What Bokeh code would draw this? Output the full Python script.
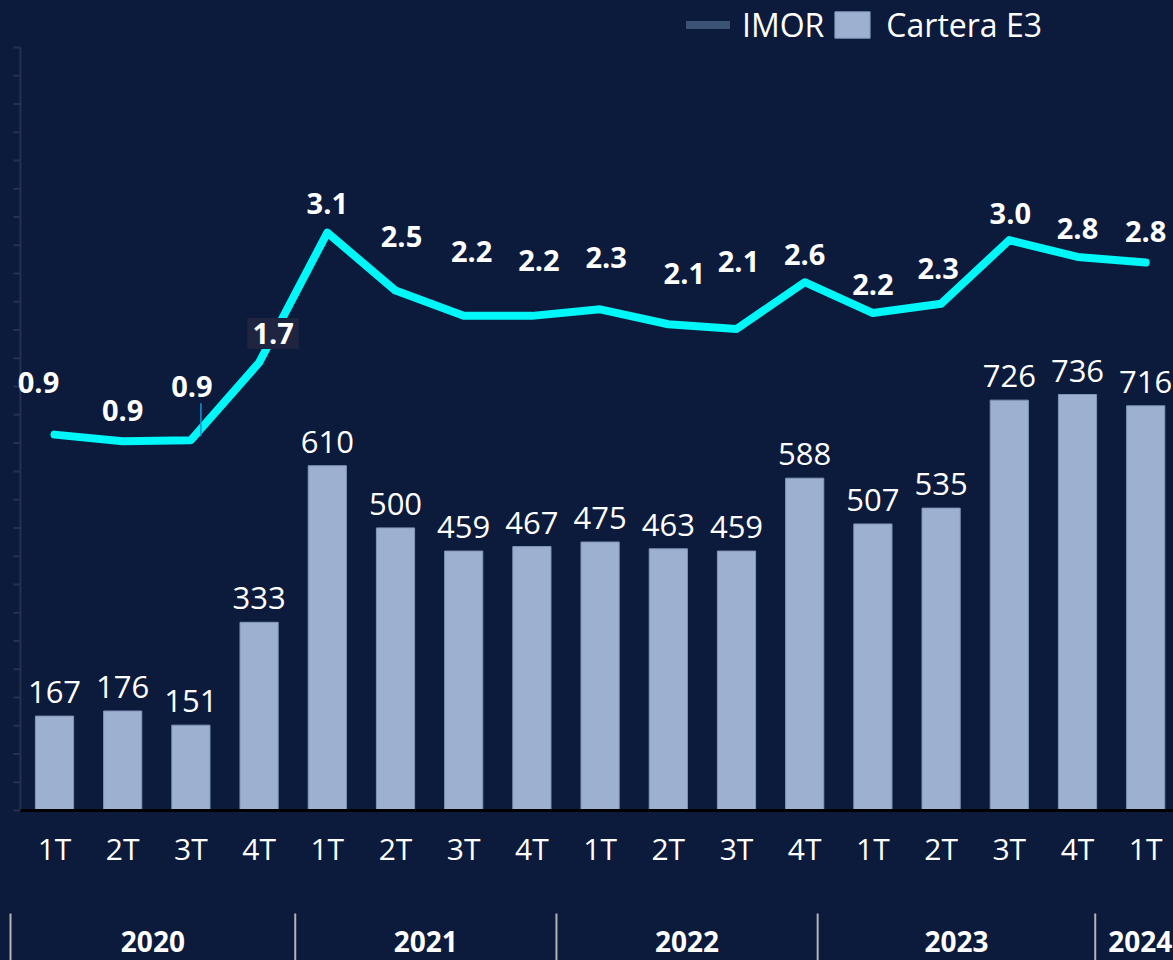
from bokeh.plotting import figure
from bokeh.models import (ColumnDataSource, Range1d, LinearAxis, FixedTicker,
                          Legend, LegendItem)
from bokeh.core.properties import value
from bokeh.embed import file_html
from bokeh.resources import INLINE

# ---------------- data ----------------
quarters = ["1T", "2T", "3T", "4T", "1T", "2T", "3T", "4T", "1T", "2T", "3T", "4T",
            "1T", "2T", "3T", "4T", "1T"]
years = ["2020", "2021", "2022", "2023", "2024"]
cartera_e3 = [167, 176, 151, 333, 610, 500, 459, 467, 475, 463, 459, 588, 507, 535, 726, 736, 716]
imor = [0.94, 0.87, 0.88, 1.71, 3.10, 2.48, 2.21, 2.21, 2.28, 2.12, 2.07, 2.57, 2.24, 2.34,
        3.02, 2.84, 2.78]

# ---------------- layout / style ----------------
BG = "#0c1a3c"
BAR = "#9eb0cf"
BAR_EDGE = "#8196bb"
CYAN = "#00f7f7"
AXIS = "#27314f"
FONT = "Open Sans"

W, H = 1173, 960
CAT_PX = 68.2          # px per category
FIRST_PX = 54          # first category centre from frame left
BASE_PX = 810          # bar baseline from frame top
BAR_PX = 0.5652        # px per unit of Cartera E3
IMOR_ZERO_PX = 522     # IMOR zero from frame top
IMOR_PX = 93.5         # px per unit of IMOR
AXIS_TOP = 1350        # extent of the left axis (Cartera units)
AXIS_STEP = 50

# label nudges in px (dx right, dy up) for the IMOR labels
imor_dx = [-16, 0, 1, 14, 0, 6, 8, 7, 6, 16, 2, 0, 0, -3, 1, 0, 0]
imor_dy = [52, 31, 54, 29, 29, 54, 64, 55, 52, 51, 67, 28, 29, 35, 27, 28, 31]
# year separators (in category units)
year_bounds = [-0.645, 3.53, 7.36, 11.19, 15.26, 16.58]

n = len(cartera_e3)
xs = list(range(n))

x_range = Range1d(-FIRST_PX / CAT_PX, (W - FIRST_PX) / CAT_PX)
y_range = Range1d(-(H - BASE_PX) / BAR_PX, BASE_PX / BAR_PX)

p = figure(width=W, height=H, x_range=x_range, y_range=y_range,
           x_axis_location=None, y_axis_location=None,
           output_backend="svg", toolbar_location=None, min_border=0,
           background_fill_color=BG, border_fill_color=BG, outline_line_color=None)
p.grid.grid_line_color = None
p.extra_y_ranges = {"imor": Range1d(-(H - IMOR_ZERO_PX) / IMOR_PX, IMOR_ZERO_PX / IMOR_PX)}

# left axis (line + outward ticks, no labels)
ax_x = -0.5
tick_vals = list(range(0, AXIS_TOP + 1, AXIS_STEP))
p.segment(x0=[ax_x], x1=[ax_x], y0=[0], y1=[AXIS_TOP], line_color=AXIS, line_width=2)
p.segment(x0=[ax_x - 7 / CAT_PX] * len(tick_vals), x1=[ax_x] * len(tick_vals),
          y0=tick_vals, y1=tick_vals, line_color=AXIS, line_width=2)

# category axis on the baseline
xax = LinearAxis(fixed_location=0, bounds=(-0.5, n - 0.5),
                 ticker=FixedTicker(ticks=xs),
                 major_label_overrides={i: q for i, q in enumerate(quarters)},
                 axis_line_color="black", axis_line_width=3,
                 major_tick_line_color=None, minor_tick_line_color=None,
                 major_label_text_color="white", major_label_text_font=FONT,
                 major_label_text_font_size="30px", major_label_standoff=11)
p.add_layout(xax, "below")

# bars
bsrc = ColumnDataSource(dict(
    x=xs, v=cartera_e3, txt=[str(v) for v in cartera_e3],
    ly=[v + 24 / BAR_PX for v in cartera_e3]))
bars = p.vbar(x="x", top="v", bottom=0, width=0.56, source=bsrc,
              fill_color=BAR, line_color=BAR_EDGE, line_width=1)
p.text(x="x", y="ly", text="txt", source=bsrc, text_color="white",
       text_font=value(FONT), text_font_size="31px",
       text_align="center", text_baseline="middle")

# IMOR line
isrc = ColumnDataSource(dict(
    x=xs, v=imor, txt=[f"{v:.1f}" for v in imor],
    lx=[i + dx / CAT_PX for i, dx in zip(xs, imor_dx)],
    ly=[v + dy / IMOR_PX for v, dy in zip(imor, imor_dy)]))
p.line(x="x", y="v", source=isrc, y_range_name="imor", line_color=CYAN,
       line_width=8, line_cap="round", line_join="round")

# thin leader under the third label
p.segment(x0=[2 + 10 / CAT_PX], x1=[2 + 10 / CAT_PX],
          y0=[imor[2] + 4 / IMOR_PX], y1=[imor[2] + 37 / IMOR_PX],
          y_range_name="imor", line_color="#1e8fd0", line_width=1.5)

lab_idx = [i for i in xs if i != 3]
lsrc = ColumnDataSource({k: [isrc.data[k][i] for i in lab_idx] for k in ("lx", "ly", "txt")})
p.text(x="lx", y="ly", text="txt", source=lsrc, y_range_name="imor",
       text_color="white", text_font=value(FONT), text_font_style="bold",
       text_font_size="29px", text_align="center", text_baseline="middle")
hsrc = ColumnDataSource({k: [isrc.data[k][3]] for k in ("lx", "ly", "txt")})
p.text(x="lx", y="ly", text="txt", source=hsrc, y_range_name="imor",
       text_color="white", text_font=value(FONT), text_font_style="bold",
       text_font_size="29px", text_align="center", text_baseline="middle",
       background_fill_color="#1f2440", padding=5)

# year groups
ysep_top = -(913 - BASE_PX) / BAR_PX
ysep_bot = -(H + 10 - BASE_PX) / BAR_PX
ssrc = ColumnDataSource(dict(x=year_bounds, y0=[ysep_top] * len(year_bounds),
                             y1=[ysep_bot] * len(year_bounds)))
p.segment(x0="x", x1="x", y0="y0", y1="y1", source=ssrc, line_color="#b4b4b4", line_width=2)
ycent = [(a + b) / 2 for a, b in zip(year_bounds[:-1], year_bounds[1:])]
ysrc = ColumnDataSource(dict(x=ycent, y=[-(941 - BASE_PX) / BAR_PX] * len(years), t=years))
p.text(x="x", y="y", text="t", source=ysrc, text_color="white",
       text_font=value(FONT), text_font_style="bold", text_font_size="28px",
       text_align="center", text_baseline="middle")

# legend (IMOR swatch is a muted proxy line, as in the original)
nan = float("nan")
proxy = p.line(x=[nan], y=[nan], line_color="#3b5274", line_width=8, line_cap="round")
legend = Legend(items=[LegendItem(label="IMOR", renderers=[proxy]),
                       LegendItem(label="Cartera E3", renderers=[bars])],
                orientation="horizontal", location=(686, H - 46),
                background_fill_alpha=0, border_line_color=None,
                label_text_color="white", label_text_font=FONT,
                label_text_font_size="32px", glyph_width=44, glyph_height=33,
                label_standoff=12, spacing=6, padding=0, margin=0)
p.add_layout(legend)

html = file_html(p, INLINE)
html = html.replace("<head>", "<head><style>body{background:%s;}</style>" % BG, 1)
open("out.html", "w").write(html)
